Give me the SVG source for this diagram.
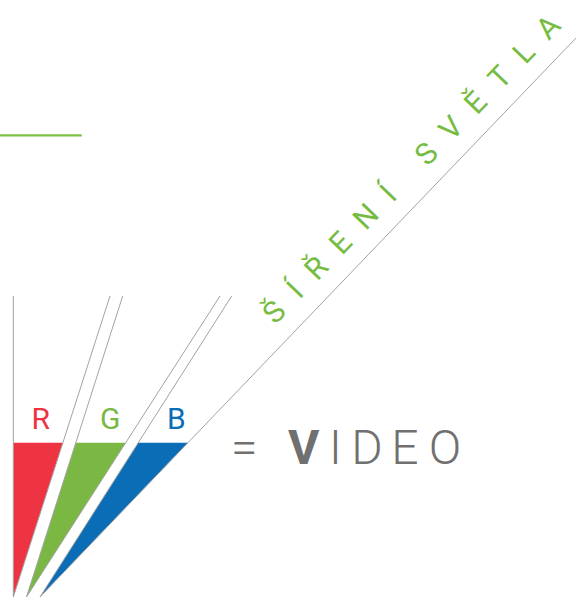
<svg xmlns="http://www.w3.org/2000/svg" width="576" height="598" viewBox="0 0 576 598">
<style>
.ray{stroke:#a3a3a3;stroke-width:1;fill:none}
.lbl{font-family:Roboto,"Liberation Sans",sans-serif;font-size:30px;text-anchor:middle}
.vid{font-family:Roboto,"Liberation Sans",sans-serif;font-size:48px;fill:#707070;text-anchor:middle}
.title{font-family:Roboto,"Liberation Sans",sans-serif;font-size:30px;fill:#76bc43}
</style>
<rect width="576" height="598" fill="#ffffff"/>
<g id="accent-line">
<line x1="0" y1="135.3" x2="81.7" y2="135.3" stroke="#7dc142" stroke-width="2.3"/>
</g>
<g id="fills">
<polygon id="red-beam" points="13.3,442.7 62.9,442.7 13.3,597" fill="#ee3342"/>
<polygon id="green-beam" points="75.8,442.7 125.7,442.7 26.5,597" fill="#7ab843"/>
<polygon id="blue-beam" points="138.3,442.7 187.9,442.7 40,597" fill="#0a6db6"/>
</g>
<g id="connectors">
<line class="ray" x1="13.3" y1="296" x2="13.3" y2="597"/>
<line class="ray" x1="110" y1="296" x2="13.3" y2="597"/>
<line class="ray" x1="122.7" y1="296" x2="26.5" y2="597"/>
<line class="ray" x1="220" y1="296" x2="26.5" y2="597"/>
<line class="ray" x1="231.7" y1="296" x2="40" y2="597"/>
<line class="ray" x1="576" y1="38" x2="40" y2="597"/>
</g>
<g id="rgb-labels">
<text class="lbl" x="40.8" y="429" fill="#ee3342">R</text>
<text class="lbl" x="110.3" y="429" fill="#7ab843">G</text>
<text class="lbl" x="176.3" y="429" fill="#0a6db6">B</text>
</g>
<g id="video">
<text class="vid" x="244.3" y="464.3" font-weight="300">=</text>
<text class="vid" x="303.8" y="464.3" font-weight="700">V</text>
<text class="vid" y="464.3" font-weight="300"><tspan x="335.5">I</tspan><tspan x="367">D</tspan><tspan x="405">E</tspan><tspan x="445">O</tspan></text>
</g>
<g id="title" transform="translate(284.1,316.2) rotate(-46.1)">
<text class="title" x="-12.8" y="0"><tspan letter-spacing="17.3">ŠÍŘENÍ SVĚTL</tspan>A</text>
</g>
</svg>
